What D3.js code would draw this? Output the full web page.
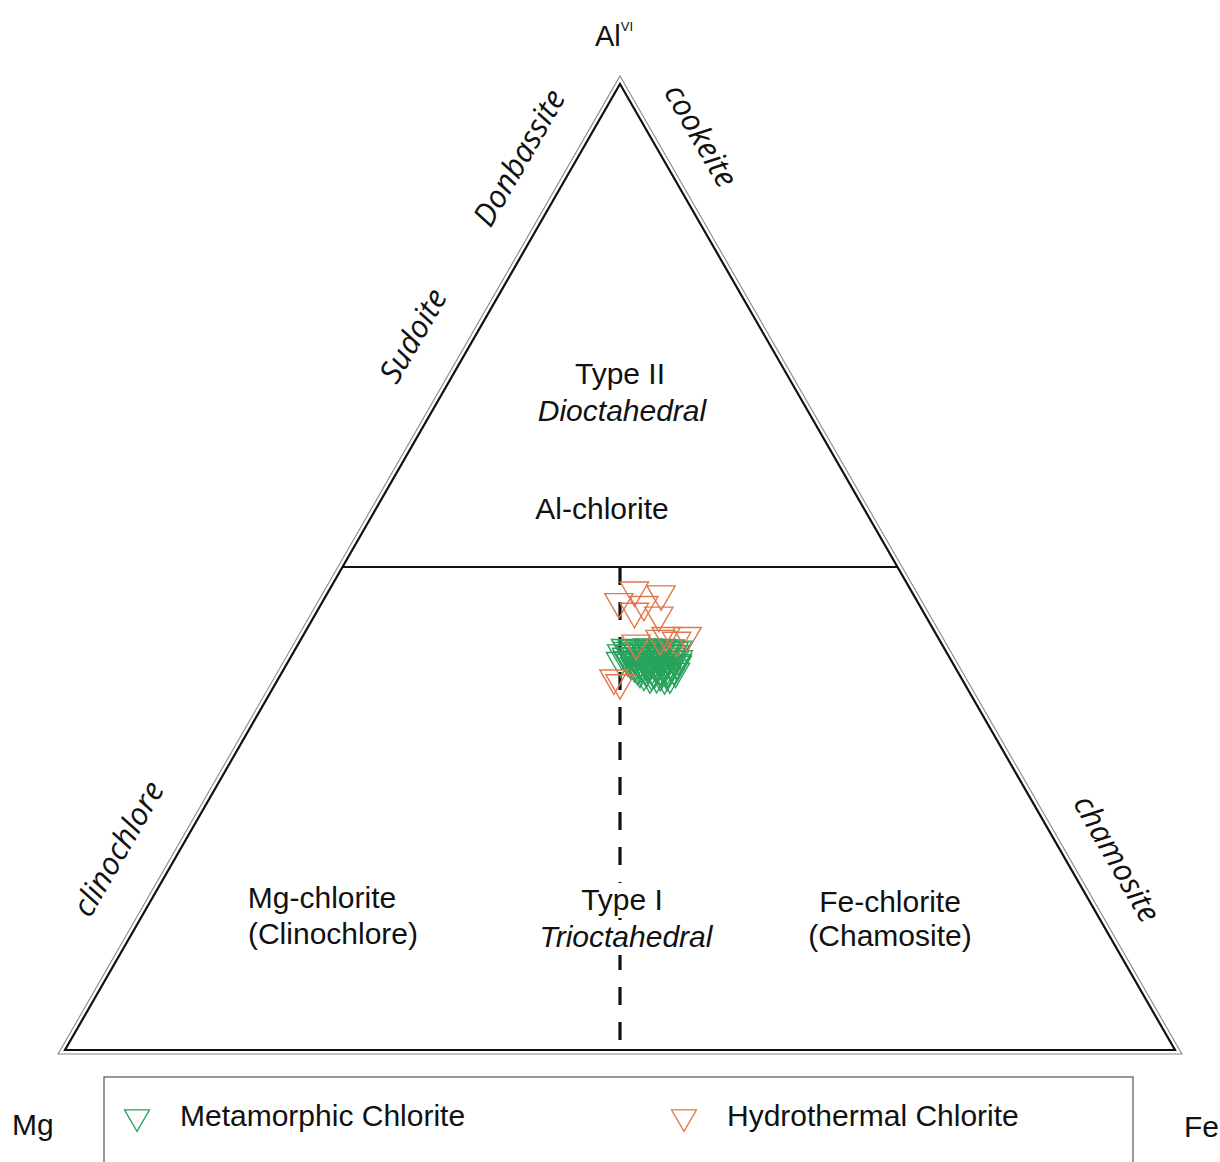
<!DOCTYPE html>
<html>
<head>
<meta charset="utf-8">
<script src="https://cdn.jsdelivr.net/npm/d3@7"></script>
<style>
  body { margin: 0; background: #ffffff; }
  svg { display: block; }
</style>
</head>
<body>
<svg id="chart" width="1220" height="1162"></svg>
<script>
// ---- Data: chlorite compositions (Al-VI, Mg, Fe) ----
const seriesNames = ["Metamorphic Chlorite", "Hydrothermal Chlorite"];
const seriesColors = ["#27a35c", "#e0774c"];

const metamorphicAl = [
  41.7, 41.5, 41.6, 41.8, 41.5, 41.7, 41.6, 41.4,
  41.35, 41.3, 41.4, 41.35, 41.3, 41.4, 41.35,
  41.1, 41.0, 41.2, 41.1, 40.9, 41.1, 41.2, 41.0,
  40.75, 40.8, 40.7, 40.75, 40.8, 40.7, 40.75,
  40.4, 40.5, 40.3, 40.4, 40.6, 40.3, 40.4, 40.5,
  40.1, 40.15, 40.05, 40.1, 40.15, 40.1, 40.05,
  39.8, 39.7, 39.9, 39.8, 39.6, 39.8, 39.9,
  39.5, 39.55, 39.45, 39.5, 39.55, 39.5,
  39.2, 39.3, 39.1, 39.2, 39.3, 39.2,
  38.9, 38.95, 38.85, 38.9,
  38.6, 38.7, 38.5, 38.6,
  40.3
];
const metamorphicMg = [
  28.7, 28.1, 27.4, 26.7, 26.0, 25.4, 24.7, 24.0,
  28.65, 27.85, 27.15, 26.55, 25.85, 25.15, 24.45,
  29.3, 28.5, 27.8, 27.1, 26.6, 25.8, 25.1, 24.5,
  29.05, 28.35, 27.65, 27.05, 26.35, 25.65, 24.95,
  29.1, 28.4, 27.6, 27.1, 26.4, 25.7, 24.9, 24.5,
  29.0, 28.2, 27.6, 26.9, 26.2, 25.4, 24.8,
  28.8, 28.2, 27.6, 26.9, 26.2, 25.5, 24.9,
  28.7, 28.0, 27.4, 26.6, 26.0, 25.4,
  28.6, 28.0, 27.3, 26.7, 26.1, 25.4,
  28.4, 27.7, 26.9, 26.3,
  28.0, 27.4, 26.7, 26.2,
  29.8
];
const metamorphicFe = [
  29.7, 30.3, 31.0, 31.7, 32.4, 33.0, 33.7, 34.4,
  30.0, 30.8, 31.5, 32.1, 32.8, 33.5, 34.2,
  29.6, 30.4, 31.1, 31.8, 32.3, 33.1, 33.8, 34.5,
  30.2, 30.9, 31.6, 32.2, 32.9, 33.6, 34.3,
  30.5, 31.2, 32.0, 32.5, 33.2, 33.9, 34.7, 35.0,
  30.9, 31.7, 32.3, 33.0, 33.7, 34.5, 35.1,
  31.4, 32.0, 32.6, 33.3, 34.0, 34.7, 35.2,
  31.8, 32.5, 33.1, 33.9, 34.5, 35.1,
  32.2, 32.8, 33.5, 34.1, 34.7, 35.4,
  32.7, 33.4, 34.2, 34.8,
  33.4, 34.0, 34.7, 35.2,
  29.9
];

const hydrothermalAl = [47.6, 47.2, 46.4, 46.1, 45.4, 45.0, 42.9, 42.6, 42.1, 38.5, 38.0, 42.4, 42.9];
const hydrothermalMg = [24.9, 22.7, 26.9, 24.8, 26.0, 24.0, 22.5, 25.1, 27.5, 31.3, 31.0, 23.7, 24.4];
const hydrothermalFe = [27.5, 30.1, 26.7, 29.1, 28.6, 31.0, 34.6, 32.3, 30.4, 30.2, 31.0, 33.9, 32.7];

// ---- Layout ----
const svg = d3.select("#chart");
const frame = { left: 65, right: 1175, top: 84, bottom: 1050 };
const sansFont = "'Liberation Sans', Arial, sans-serif";
const sideFont = "'Open Sans', 'DejaVu Sans', sans-serif";
const textSize = 30;

svg.append("rect").attr("width", 1220).attr("height", 1162).attr("fill", "#ffffff");

// Ternary projection: Fe share along x (shifted by half the Al share), Al share on y
const xs = d3.scaleLinear().domain([0, 1]).range([frame.left, frame.right]);
const ys = d3.scaleLinear().domain([0, 1]).range([frame.bottom, frame.top]);
function project(al, mg, fe) {
  const s = al + mg + fe;
  const a = al / s, f = fe / s;
  return [xs(f + a / 2), ys(a)];
}

const cornerMg = project(0, 1, 0);
const cornerFe = project(0, 0, 1);
const cornerAl = project(1, 0, 0);
const corners = [cornerAl, cornerFe, cornerMg];

// Outer hairline of the frame, offset outward from the main outline
function offsetTriangle(pts, d) {
  const [A, B, C] = pts;
  const len = (p, q) => Math.hypot(p[0] - q[0], p[1] - q[1]);
  const a = len(B, C), b = len(A, C), c = len(A, B);
  const per = a + b + c;
  const I = [(a * A[0] + b * B[0] + c * C[0]) / per, (a * A[1] + b * B[1] + c * C[1]) / per];
  const area = Math.abs((B[0] - A[0]) * (C[1] - A[1]) - (C[0] - A[0]) * (B[1] - A[1])) / 2;
  const r = 2 * area / per;
  const k = (r + d) / r;
  return pts.map(p => [I[0] + k * (p[0] - I[0]), I[1] + k * (p[1] - I[1])]);
}

const line = d3.line();
svg.append("path")
  .attr("d", line(offsetTriangle(corners, 4)) + "Z")
  .attr("fill", "none").attr("stroke", "#8a8a8a").attr("stroke-width", 1.1);
svg.append("path")
  .attr("d", line(corners) + "Z")
  .attr("fill", "none").attr("stroke", "#111").attr("stroke-width", 2.2)
  .attr("stroke-linejoin", "miter");

// Al = 50% divider between type I and type II
svg.append("path")
  .attr("d", line([project(50, 50, 0), project(50, 0, 50)]))
  .attr("stroke", "#111").attr("stroke-width", 2.2);

// Mg = Fe divider (dashed) within the trioctahedral field
svg.append("path")
  .attr("d", line([project(50, 25, 25), project(0, 50, 50)]))
  .attr("stroke", "#111").attr("stroke-width", 3.2)
  .attr("stroke-dasharray", "18 17");

// ---- Data points (downward triangles) ----
const triSymbol = d3.symbol().type(d3.symbolTriangle).size(345);
function drawSeries(al, mg, fe, color) {
  const pts = al.map((v, i) => project(v, mg[i], fe[i]));
  svg.append("g").selectAll("path").data(pts).join("path")
    .attr("d", triSymbol)
    .attr("transform", d => `translate(${d[0]},${d[1]}) rotate(180)`)
    .attr("fill", "none").attr("stroke", color).attr("stroke-width", 1.4);
}
drawSeries(metamorphicAl, metamorphicMg, metamorphicFe, seriesColors[0]);
drawSeries(hydrothermalAl, hydrothermalMg, hydrothermalFe, seriesColors[1]);

// ---- Apex labels ----
const alLabel = svg.append("text")
  .attr("x", cornerAl[0] - 25).attr("y", 46)
  .attr("font-family", sansFont).attr("font-size", 29).attr("fill", "#111");
alLabel.append("tspan").text("Al");
alLabel.append("tspan").attr("dy", -15).attr("font-size", 13).text("VI");

svg.append("text").attr("x", 12).attr("y", 1135)
  .attr("font-family", sansFont).attr("font-size", textSize).attr("fill", "#111").text("Mg");
svg.append("text").attr("x", 1184).attr("y", 1137)
  .attr("font-family", sansFont).attr("font-size", textSize).attr("fill", "#111").text("Fe");

// ---- End-member names along the sides ----
const sideLabels = [
  { text: "Donbassite", x: 518, y: 157, angle: -60 },
  { text: "Sudoite", x: 412, y: 335, angle: -60 },
  { text: "clinochlore", x: 117, y: 848, angle: -60 },
  { text: "cookeite", x: 702, y: 135, angle: 60 },
  { text: "chamosite", x: 1118, y: 858, angle: 60 }
];
svg.append("g").selectAll("text").data(sideLabels).join("text")
  .attr("transform", d => `translate(${d.x},${d.y}) rotate(${d.angle})`)
  .attr("text-anchor", "middle").attr("dominant-baseline", "central")
  .attr("font-family", sideFont).attr("font-style", "italic")
  .attr("font-size", 31).attr("fill", "#111")
  .text(d => d.text);

// ---- Field labels ----
const fieldLabels = [
  { text: "Type II", x: 620, y: 384, italic: false, knock: false },
  { text: "Dioctahedral", x: 622, y: 421, italic: true, knock: false },
  { text: "Al-chlorite", x: 602, y: 519, italic: false, knock: false },
  { text: "Mg-chlorite", x: 322, y: 908, italic: false, knock: false },
  { text: "(Clinochlore)", x: 333, y: 944, italic: false, knock: false },
  { text: "Type I", x: 622, y: 910, italic: false, knock: true },
  { text: "Trioctahedral", x: 626, y: 947, italic: true, knock: true },
  { text: "Fe-chlorite", x: 890, y: 912, italic: false, knock: false },
  { text: "(Chamosite)", x: 890, y: 946, italic: false, knock: false }
];
const fl = svg.append("g").selectAll("g").data(fieldLabels).join("g");
const flText = fl.append("text")
  .attr("x", d => d.x).attr("y", d => d.y)
  .attr("text-anchor", "middle")
  .attr("font-family", sansFont)
  .attr("font-style", d => d.italic ? "italic" : "normal")
  .attr("font-size", textSize).attr("fill", "#111")
  .text(d => d.text);
// white box behind labels that sit on the dashed divider
flText.each(function (d) {
  if (!d.knock) return;
  const b = this.getBBox();
  d3.select(this.parentNode).insert("rect", "text")
    .attr("x", b.x - 2).attr("y", b.y).attr("width", b.width + 4).attr("height", b.height + 2)
    .attr("fill", "#ffffff");
});

// ---- Legend ----
svg.append("rect")
  .attr("x", 104).attr("y", 1077).attr("width", 1029).attr("height", 130)
  .attr("fill", "none").attr("stroke", "#555").attr("stroke-width", 1.2);

const legendSymbol = d3.symbol().type(d3.symbolTriangle).size(270);
const legendItems = seriesNames.map((name, i) => ({ name, color: seriesColors[i], x: [137, 684][i] }));
const lg = svg.append("g").selectAll("g").data(legendItems).join("g");
lg.append("path")
  .attr("d", legendSymbol)
  .attr("transform", d => `translate(${d.x},1117) rotate(180)`)
  .attr("fill", "none").attr("stroke", d => d.color).attr("stroke-width", 1.3);
lg.append("text")
  .attr("x", d => d.x + 43).attr("y", 1126)
  .attr("font-family", sansFont).attr("font-size", textSize).attr("fill", "#111")
  .text(d => d.name);
</script>
</body>
</html>
